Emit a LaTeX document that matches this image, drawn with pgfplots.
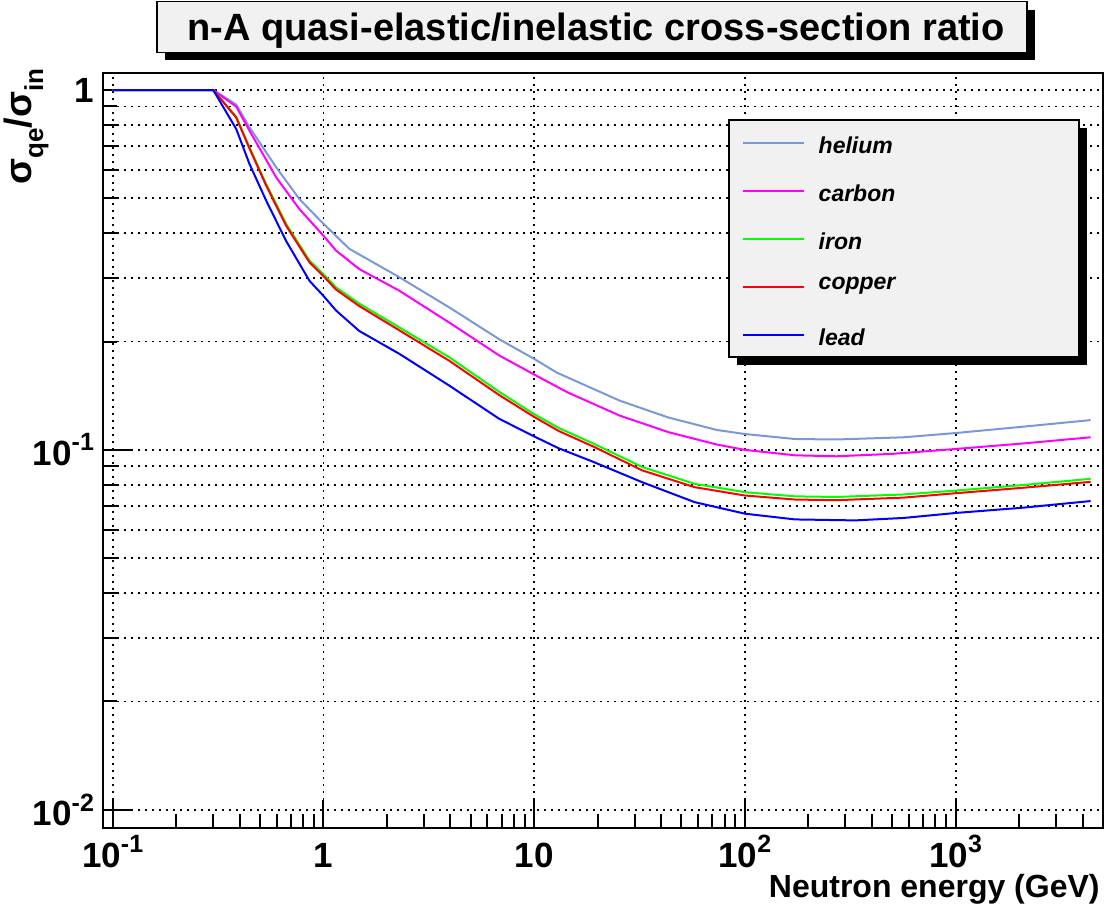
\documentclass[border=0pt]{standalone}
\usepackage{fontspec}
\setmainfont{Liberation Sans}
\usepackage{pgfplots}
\pgfplotsset{compat=1.18}
\definecolor{hel}{RGB}{122,152,214}
\definecolor{carb}{RGB}{255,0,255}
\definecolor{fe}{RGB}{0,255,0}
\definecolor{cu}{RGB}{255,0,0}
\definecolor{pb}{RGB}{0,0,255}
\definecolor{boxgray}{RGB}{241,241,241}
\newcommand{\tenpow}[1]{10\raisebox{0.42em}{\fontsize{12.5}{12.5}\selectfont #1}}
\begin{document}
\begin{tikzpicture}
\path[use as bounding box] (0,0) rectangle (553pt,453pt);
% title box
\fill[black] (82.5pt,422.8pt) rectangle (517.5pt,448.2pt);
\draw[fill=boxgray, line width=0.8pt] (78.5pt,426.8pt) rectangle (513.5pt,452.2pt);
\node[anchor=base, inner sep=0pt, font=\bfseries\fontsize{19}{19}\selectfont] at (298pt,432.8pt) {n-A quasi-elastic/inelastic cross-section ratio};
% y label
\node[rotate=90, anchor=base east, inner sep=0pt, font=\bfseries\fontsize{19}{19}\selectfont] at (15.9pt,419pt) {σ\raisebox{-0.3em}{\fontsize{13}{13}\selectfont qe}/σ\raisebox{-0.3em}{\fontsize{13}{13}\selectfont in}};
% x label
\node[anchor=base east, inner sep=0pt, font=\bfseries\fontsize{16}{16}\selectfont] at (550pt,4.5pt) {Neutron energy (GeV)};
\begin{axis}[
  at={(51.5pt,39pt)}, anchor=south west,
  scale only axis, width=500pt, height=377.5pt,
  xmode=log, ymode=log,
  xmin=0.09, xmax=5000, ymin=0.0089, ymax=1.115,
  axis line style={line width=1.2pt},
  tick pos=left, tick align=inside,
  xtick={0.1,1,10,100,1000},
  xticklabels={\tenpow{-1},1,10,\tenpow{2},\tenpow{3}},
  minor xtick={0.2,0.3,0.4,0.5,0.6,0.7,0.8,0.9,2,3,4,5,6,7,8,9,20,30,40,50,60,70,80,90,200,300,400,500,600,700,800,900,2000,3000,4000},
  ytick={0.01,0.1,1},
  yticklabels={\tenpow{-2},\tenpow{-1},1},
  minor ytick={0.02,0.03,0.04,0.05,0.06,0.07,0.08,0.09,0.2,0.3,0.4,0.5,0.6,0.7,0.8,0.9},
  xmajorgrids, ymajorgrids, yminorgrids,
  major grid style={black, line width=0.9pt, dash pattern=on 0.9pt off 2.6pt},
  minor grid style={black, line width=0.9pt, dash pattern=on 0.9pt off 2.6pt},
  major tick length=14pt, minor tick length=7pt,
  every tick/.style={black, line width=1pt},
  tick label style={font=\bfseries\fontsize{17.5}{17.5}\selectfont},
  xticklabel style={anchor=base, yshift=-19.5pt},
  yticklabel style={anchor=east, xshift=-1pt},
  legend style={at={(rel axis cs:0.626,0.9377)}, anchor=north west, draw=none, fill=none,
    inner xsep=6.5pt, inner ysep=3.5pt, outer sep=0pt, row sep=8.5pt, column sep=6.85pt,
    font=\bfseries\itshape\fontsize{11.5}{11.5}\selectfont,
    nodes={text height=13pt, text depth=2.5pt, inner sep=0pt}},
  legend cell align=left,
  legend image code/.code={\draw[#1, line width=1pt] (0pt,0pt) -- (30.5pt,0pt);},
  every axis plot/.append style={line width=1pt},
]
\addplot[hel] coordinates {
(0.1,1) (0.3,1) (0.386,0.911) (0.446,0.788) (0.597,0.610) (0.769,0.498) (1.0,0.425) (1.328,0.362) (2.29,0.302) (3.95,0.249) (6.83,0.203) (10,0.179) (12.8,0.164) (25.5,0.137) (43.4,0.123) (73.6,0.1136) (100,0.1107) (173,0.1072) (272,0.1069) (565,0.1084) (1000,0.1114) (2085,0.116) (4365,0.121)};
\addlegendentry{helium}
\addplot[carb] coordinates {
(0.1,1) (0.3,1) (0.386,0.899) (0.446,0.771) (0.597,0.572) (0.769,0.467) (1.0,0.394) (1.148,0.358) (1.48,0.318) (2.29,0.277) (3.95,0.226) (6.83,0.183) (10,0.162) (14.4,0.1445) (25.5,0.1245) (43.4,0.112) (73.6,0.1035) (100,0.100) (173,0.0966) (272,0.096) (500,0.0975) (1000,0.1006) (2085,0.1042) (4365,0.1084)};
\addlegendentry{carbon}
\addplot[fe] coordinates {
(0.1,1) (0.3,1) (0.386,0.843) (0.446,0.693) (0.535,0.548) (0.665,0.425) (0.859,0.336) (1.0,0.308) (1.148,0.283) (1.48,0.255) (2.29,0.219) (3.95,0.181) (6.83,0.145) (10,0.1257) (13.1,0.115) (19.2,0.104) (32.6,0.0896) (57.7,0.0805) (100,0.0763) (173,0.0743) (272,0.074) (565,0.0752) (1000,0.0771) (2085,0.0799) (4365,0.0831)};
\addlegendentry{iron}
\addplot[cu] coordinates {
(0.1,1) (0.3,1) (0.386,0.838) (0.446,0.688) (0.535,0.543) (0.665,0.420) (0.859,0.332) (1.0,0.304) (1.148,0.279) (1.48,0.251) (2.29,0.215) (3.95,0.177) (6.83,0.142) (10,0.1235) (13.1,0.1128) (19.2,0.102) (32.6,0.0877) (57.7,0.0788) (100,0.0747) (173,0.0728) (272,0.0725) (565,0.0737) (1000,0.0758) (2085,0.0785) (4365,0.0815)};
\addlegendentry{\raisebox{4pt}[0pt][0pt]{copper}}
\addplot[pb] coordinates {
(0.1,1) (0.3,1) (0.386,0.779) (0.446,0.623) (0.535,0.493) (0.665,0.381) (0.859,0.295) (1.0,0.268) (1.148,0.244) (1.48,0.214) (2.29,0.185) (3.95,0.151) (6.83,0.122) (10,0.109) (13.1,0.101) (19.2,0.0925) (32.6,0.0813) (57.7,0.0716) (100,0.0665) (173,0.0641) (333,0.0637) (565,0.0647) (1000,0.0668) (2085,0.0691) (4365,0.0721)};
\addlegendentry{lead}
\fill[black] ([xshift=4pt,yshift=-4pt]rel axis cs:0.626,0.9377) rectangle ([xshift=4pt,yshift=-4pt]rel axis cs:0.976,0.6238);
\draw[fill=boxgray, line width=1pt] (rel axis cs:0.626,0.9377) rectangle (rel axis cs:0.976,0.6238);
\end{axis}
\end{tikzpicture}
\end{document}
